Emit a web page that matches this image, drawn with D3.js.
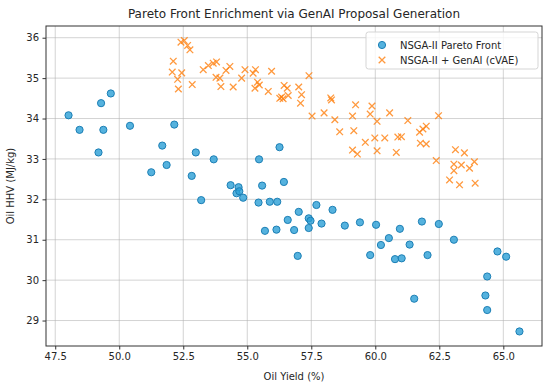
<!DOCTYPE html>
<html>
<head>
<meta charset="utf-8">
<script src="https://cdn.jsdelivr.net/npm/d3@7"></script>
<style>
  body { margin: 0; background: #fff; }
  text { font-family: "DejaVu Sans", sans-serif; fill: #262626; }
</style>
</head>
<body>
<svg id="chart" width="550" height="389"></svg>
<script>
const titleText = "Pareto Front Enrichment via GenAI Proposal Generation";
const xLabel = "Oil Yield (%)";
const yLabel = "Oil HHV (MJ/kg)";
const seriesNames = ["NSGA-II Pareto Front", "NSGA-II + GenAI (cVAE)"];
const xTicks = [47.5, 50, 52.5, 55, 57.5, 60, 62.5, 65];
const yTicks = [29, 30, 31, 32, 33, 34, 35, 36];

// NSGA-II Pareto front [yield, hhv]
const paretoFront = [
  [48.02, 34.08], [48.45, 33.72], [49.38, 33.72], [49.29, 34.38], [49.67, 34.62],
  [49.19, 33.16], [50.42, 33.82], [52.15, 33.85], [51.68, 33.33], [52.99, 33.16],
  [53.69, 32.99], [51.85, 32.85], [51.25, 32.67], [52.83, 32.58], [53.20, 31.98],
  [54.35, 32.35], [54.66, 32.30], [54.58, 32.15], [54.69, 32.20], [54.84, 32.04],
  [55.58, 32.34], [56.43, 32.43], [55.44, 31.92], [55.88, 31.94], [56.17, 31.94],
  [57.01, 31.69], [57.70, 31.86], [58.33, 31.74], [56.58, 31.49], [57.40, 31.53],
  [57.47, 31.47], [57.90, 31.40], [55.69, 31.22], [56.14, 31.25], [56.83, 31.24],
  [57.40, 31.29], [58.81, 31.35], [59.40, 31.43], [56.97, 30.60], [59.80, 30.62],
  [55.46, 32.99], [56.26, 33.29], [60.03, 31.37], [60.96, 31.27], [61.82, 31.45],
  [62.48, 31.39], [60.53, 31.04], [60.22, 30.87], [61.34, 30.88], [63.07, 31.00],
  [60.77, 30.52], [61.03, 30.54], [62.04, 30.62], [64.77, 30.71], [65.11, 30.58],
  [64.37, 30.09], [61.52, 29.54], [64.30, 29.62], [64.37, 29.26], [65.63, 28.73]
];

// NSGA-II + GenAI proposals [yield, hhv]
const genaiFront = [
  [52.41, 35.89], [52.54, 35.93], [52.67, 35.81], [52.76, 35.70], [52.11, 35.42],
  [52.07, 35.15], [52.44, 35.13], [52.28, 34.97], [52.31, 34.73], [52.85, 34.84],
  [53.28, 35.21], [53.48, 35.31], [53.67, 35.37], [53.80, 35.40], [53.78, 35.02],
  [53.93, 35.00], [53.97, 34.79], [54.17, 35.19], [54.32, 35.29], [54.45, 34.78],
  [54.78, 35.00], [54.91, 35.21], [55.23, 35.12], [55.32, 35.21], [55.30, 34.75],
  [55.40, 34.90], [55.47, 34.83], [55.82, 34.67], [55.95, 35.17], [56.27, 34.50],
  [56.34, 34.53], [56.40, 34.49], [56.44, 34.82], [56.56, 34.75], [56.60, 34.57],
  [57.01, 34.78], [57.12, 34.59], [57.08, 34.38], [57.41, 35.06], [57.53, 34.06],
  [58.00, 34.14], [58.26, 34.51], [58.29, 34.46], [58.42, 33.97], [58.61, 33.67],
  [59.11, 34.06], [59.23, 34.34], [59.16, 33.70], [59.61, 33.41], [59.11, 33.22],
  [59.30, 33.12], [59.80, 34.11], [59.87, 34.31], [60.07, 33.93], [60.56, 34.14],
  [61.27, 33.95], [62.47, 34.07], [59.98, 33.52], [60.37, 33.52], [60.07, 33.20],
  [60.88, 33.54], [61.02, 33.55], [60.82, 33.16], [61.73, 33.66], [61.86, 33.74],
  [61.99, 33.81], [61.76, 33.39], [61.99, 33.37], [62.38, 32.96], [63.13, 33.23],
  [63.48, 33.15], [63.07, 32.87], [63.36, 32.85], [63.68, 32.77], [63.87, 32.93],
  [63.07, 32.71], [62.90, 32.48], [63.29, 32.36], [63.90, 32.40]
];

const margin = { top: 26, right: 8, bottom: 43, left: 46 };
const width = 550 - margin.left - margin.right;
const height = 389 - margin.top - margin.bottom;
const blue = "#2a9fd6";
const orange = "#ff7f0e";

const svg = d3.select("#chart");
const g = svg.append("g").attr("transform", `translate(${margin.left},${margin.top})`);

// matplotlib-style 5% padding
let padded = (values) => {
  let [lo, hi] = d3.extent(values);
  let pad = (hi - lo) * 0.05;
  return [lo - pad, hi + pad];
};
const allPoints = paretoFront.concat(genaiFront);
const x = d3.scaleLinear().domain(padded(allPoints.map(d => d[0]))).range([0, width]);
const y = d3.scaleLinear().domain(padded(allPoints.map(d => d[1]))).range([height, 0]);

// grid
g.append("g").selectAll("line").data(xTicks).enter().append("line")
  .attr("x1", d => x(d)).attr("x2", d => x(d))
  .attr("y1", 0).attr("y2", height)
  .attr("stroke", "#b0b0b0").attr("stroke-opacity", 0.7).attr("stroke-width", 0.8);
g.append("g").selectAll("line").data(yTicks).enter().append("line")
  .attr("y1", d => y(d)).attr("y2", d => y(d))
  .attr("x1", 0).attr("x2", width)
  .attr("stroke", "#b0b0b0").attr("stroke-opacity", 0.7).attr("stroke-width", 0.8);

// axes
let styleAxis = (sel) => {
  sel.select(".domain").remove();
  sel.selectAll(".tick line").attr("stroke", "#333");
  sel.selectAll(".tick text").style("font-size", "10px").attr("fill", "#262626");
};
g.append("g").attr("transform", `translate(0,${height})`)
  .call(d3.axisBottom(x).tickValues(xTicks).tickFormat(d3.format(".1f")).tickSize(3.5).tickPadding(3.5))
  .call(styleAxis);
g.append("g")
  .call(d3.axisLeft(y).tickValues(yTicks).tickFormat(d3.format("d")).tickSize(3.5).tickPadding(3.5))
  .call(styleAxis);

// points
g.append("g").selectAll("circle").data(paretoFront).enter().append("circle")
  .attr("cx", d => x(d[0])).attr("cy", d => y(d[1])).attr("r", 3.6)
  .attr("fill", blue).attr("fill-opacity", 0.8)
  .attr("stroke", "#1c7fb5").attr("stroke-width", 1);

let cross = (s) => `M${-s},${-s}L${s},${s}M${-s},${s}L${s},${-s}`;
g.append("g").selectAll("path").data(genaiFront).enter().append("path")
  .attr("d", cross(3.3))
  .attr("transform", d => `translate(${x(d[0])},${y(d[1])})`)
  .attr("stroke", orange).attr("stroke-opacity", 0.8).attr("stroke-width", 1.3).attr("fill", "none");

// frame
g.append("rect").attr("width", width).attr("height", height)
  .attr("fill", "none").attr("stroke", "#333").attr("stroke-width", 1);

// labels
svg.append("text").attr("x", margin.left + width / 2).attr("y", 18)
  .attr("text-anchor", "middle").style("font-size", "12px").text(titleText);
svg.append("text").attr("x", margin.left + width / 2).attr("y", 380)
  .attr("text-anchor", "middle").style("font-size", "10px").text(xLabel);
svg.append("text").attr("transform", `translate(14,${margin.top + height / 2}) rotate(-90)`)
  .attr("text-anchor", "middle").style("font-size", "10px").text(yLabel);

// legend
const legend = g.append("g").attr("transform", `translate(${width - 176},6)`);
legend.append("rect").attr("width", 172).attr("height", 37).attr("rx", 2.5)
  .attr("fill", "#fff").attr("fill-opacity", 0.8).attr("stroke", "#d5d5d5");
legend.append("circle").attr("cx", 16).attr("cy", 13).attr("r", 3.6)
  .attr("fill", blue).attr("fill-opacity", 0.8).attr("stroke", "#1c7fb5");
legend.append("path").attr("d", cross(3.3)).attr("transform", "translate(16,28)")
  .attr("stroke", orange).attr("stroke-opacity", 0.8).attr("stroke-width", 1.3).attr("fill", "none");
legend.selectAll(".legend-label").data(seriesNames).enter().append("text")
  .attr("class", "legend-label")
  .attr("x", 34).attr("y", (d, i) => 13 + i * 15).attr("dy", ".35em")
  .style("font-size", "10px").text(d => d);
</script>
</body>
</html>
